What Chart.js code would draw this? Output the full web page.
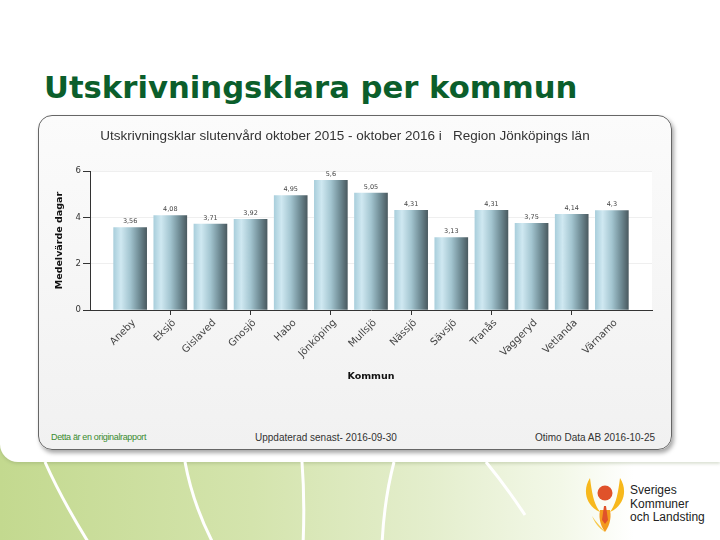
<!DOCTYPE html>
<html lang="sv">
<head>
<meta charset="utf-8">
<title>Utskrivningsklara per kommun</title>
<script src="https://cdn.jsdelivr.net/npm/chart.js@4.4.1/dist/chart.umd.min.js"></script>
<style>
  html, body { margin: 0; padding: 0; }
  body {
    width: 720px; height: 540px; position: relative; overflow: hidden;
    background: linear-gradient(90deg, #c3d98f 0%, #d4e4ad 35%, #e4eecd 60%, #f3f8e8 78%, #ffffff 88%);
    font-family: "Liberation Sans", Arial, sans-serif;
  }
  .sheet {
    position: absolute; left: 0; top: 0; width: 720px; height: 462px;
    background: #fff; border-bottom-left-radius: 18px;
    box-shadow: 0 2px 3px rgba(120, 140, 90, 0.25);
  }
  .swoosh { position: absolute; left: 0; top: 455px; }
  h1 {
    position: absolute; left: 44px; top: 70px; margin: 0;
    font: bold 30.7px "DejaVu Sans", Verdana, sans-serif; color: #0b5e2b;
  }
  .panel {
    position: absolute; left: 38px; top: 115px; width: 634px; height: 335px;
    box-sizing: border-box; border: 1.5px solid #666; border-radius: 14px;
    background: linear-gradient(#fbfbfb, #f1f1f1);
    box-shadow: 2px 3px 4px rgba(0, 0, 0, 0.35);
  }
  #wrap { position: absolute; left: 38px; top: 115px; width: 634px; height: 280px; }
  .foot { position: absolute; top: 432px; font-size: 10px; color: #333; white-space: nowrap; }
  .logo-text { position: absolute; left: 630px; top: 484px; font-size: 12px; line-height: 13.5px; color: #222; }
</style>
</head>
<body>
<div class="sheet"></div>
<svg class="swoosh" width="560" height="85" viewBox="0 455 560 85">
  <g fill="none" stroke="#ffffff" stroke-width="3">
    <path d="M 45 462 Q 62 500 90 545"/>
    <path d="M 185 462 Q 193 505 214 545"/>
    <path d="M 302 462 Q 305 500 303 545"/>
    <path d="M 394 462 Q 384 500 382 545"/>
    <path d="M 486 462 Q 505 485 525 515"/>
  </g>
</svg>
<h1>Utskrivningsklara per kommun</h1>
<div class="panel"></div>
<div id="wrap"><canvas id="chart"></canvas></div>
<div class="foot" style="left:51px; color:#3b8b2f; font-size:9px; letter-spacing:-0.35px;">Detta är en originalrapport</div>
<div class="foot" style="left:255px;">Uppdaterad senast- 2016-09-30</div>
<div class="foot" style="left:535px;">Otimo Data AB 2016-10-25</div>
<svg style="position:absolute; left:584px; top:476px;" width="44" height="58" viewBox="0 0 44 58">
  <path d="M 6 2 C -2 14, 2 30, 16 36 C 10 28, 8 18, 6 2 Z" fill="#f7b81c"/>
  <path d="M 36 2 C 44 14, 40 30, 26 36 C 32 28, 34 18, 36 2 Z" fill="#f7b81c"/>
  <path d="M 16 34 C 14 44, 18 52, 21 56 C 24 52, 28 44, 26 34 Z" fill="#f39a1e"/>
  <path d="M 8 40 C 12 50, 18 54, 21 56 C 16 50, 12 46, 8 40 Z" fill="#f7c94a"/>
  <circle cx="21" cy="17" r="7.5" fill="#e0522a"/>
  <path d="M 20 30 L 22 30 L 24 44 L 21 48 L 18 44 Z" fill="#e0522a"/>
</svg>
<div class="logo-text">Sveriges<br>Kommuner<br>och Landsting</div>

<script>
// Data
const kommuner = ['Aneby', 'Eksjö', 'Gislaved', 'Gnosjö', 'Habo', 'Jönköping', 'Mullsjö',
                  'Nässjö', 'Sävsjö', 'Tranås', 'Vaggeryd', 'Vetlanda', 'Värnamo'];
const medelDagar = [3.56, 4.08, 3.71, 3.92, 4.95, 5.6, 5.05, 4.31, 3.13, 4.31, 3.75, 4.14, 4.3];
const yTicks = [0, 2, 4, 6];

const BAR_W = 33;

// category axis that leaves an extra half slot on each side
class PaddedCategoryScale extends Chart.CategoryScale {
    configure() {
        super.configure();
        this._startValue = this.min - 1;
        this._valueRange = (this.max - this.min) + 2;
    }
}
PaddedCategoryScale.id = 'paddedCategory';
PaddedCategoryScale.defaults = Chart.CategoryScale.defaults;
Chart.register(PaddedCategoryScale);

// white plot area behind the bars
const plotBackground = {
    id: 'plotBackground',
    beforeDraw(chart) {
        const {ctx, chartArea: a} = chart;
        ctx.save();
        ctx.fillStyle = '#ffffff';
        ctx.fillRect(a.left, a.top, a.right - a.left, a.bottom - a.top);
        ctx.restore();
    }
};

// small value labels above each bar
const valueLabels = {
    id: 'valueLabels',
    afterDatasetsDraw(chart) {
        const ctx = chart.ctx;
        const meta = chart.getDatasetMeta(0);
        ctx.save();
        ctx.font = '6.5px "DejaVu Sans", sans-serif';
        ctx.fillStyle = '#444';
        ctx.textAlign = 'center';
        ctx.textBaseline = 'bottom';
        meta.data.forEach((bar, i) => {
            ctx.fillText(String(medelDagar[i]).replace('.', ','), bar.x, bar.y - 3);
        });
        ctx.restore();
    }
};

function barGradient(c) {
    const scale = c.chart.scales.x;
    if (c.dataIndex === undefined || !scale) return '#9fc3cf';
    const x = scale.getPixelForValue(c.dataIndex);
    if (!isFinite(x)) return '#9fc3cf';
    const g = c.chart.ctx.createLinearGradient(x - BAR_W / 2, 0, x + BAR_W / 2, 0);
    g.addColorStop(0, '#aacfdc');
    g.addColorStop(0.22, '#cfe8f1');
    g.addColorStop(0.5, '#a3c5d0');
    g.addColorStop(0.78, '#6f8b94');
    g.addColorStop(1, '#4b5b61');
    return g;
}

new Chart(document.getElementById('chart'), {
    type: 'bar',
    data: {
        labels: kommuner,
        datasets: [{
            label: 'Medelvärde dagar',
            data: medelDagar,
            backgroundColor: barGradient,
            borderWidth: 0,
            barThickness: BAR_W
        }]
    },
    options: {
        responsive: true,
        maintainAspectRatio: false,
        animation: false,
        layout: { padding: { left: 0, right: 20, top: 0, bottom: 0 } },
        plugins: {
            legend: { display: false },
            tooltip: { enabled: false },
            title: {
                display: true,
                text: 'Utskrivningsklar slutenvård oktober 2015 - oktober 2016 i   Region Jönköpings län',
                color: '#333',
                font: { family: '"Liberation Sans", Arial, sans-serif', size: 13.5, weight: 'normal', lineHeight: 1.2 },
                padding: { top: 13, bottom: 27 }
            }
        },
        scales: {
            x: {
                type: 'paddedCategory',
                grid: {
                    offset: false,
                    drawOnChartArea: false,
                    tickLength: 5,
                    tickColor: c => (c.index % 2 === 1 ? '#333' : 'rgba(0,0,0,0)')
                },
                border: { color: '#333', width: 1 },
                ticks: {
                    color: '#444',
                    font: { family: '"DejaVu Sans", sans-serif', size: 10 },
                    minRotation: 45,
                    maxRotation: 45,
                    autoSkip: false,
                    labelOffset: 4,
                    padding: 2
                },
                title: {
                    display: true,
                    text: 'Kommun',
                    color: '#111',
                    font: { family: '"DejaVu Sans", sans-serif', size: 9.5, weight: 'bold' },
                    padding: { top: 0, bottom: 13 }
                },
                afterFit: s => { s.height = 85; }
            },
            y: {
                min: 0,
                max: 6,
                afterBuildTicks: s => { s.ticks = yTicks.map(v => ({ value: v })); },
                grid: { color: '#efefef', tickColor: '#333', tickLength: 7 },
                border: { color: '#333', width: 1 },
                ticks: {
                    color: '#333',
                    font: { family: '"DejaVu Sans", sans-serif', size: 8.5 },
                    padding: 2
                },
                title: {
                    display: true,
                    text: 'Medelvärde dagar',
                    color: '#111',
                    font: { family: '"DejaVu Sans", sans-serif', size: 9.5, weight: 'bold' },
                    padding: { top: 16, bottom: 0 }
                },
                afterFit: s => { s.width = 52; }
            }
        }
    },
    plugins: [plotBackground, valueLabels]
});
</script>
</body>
</html>
